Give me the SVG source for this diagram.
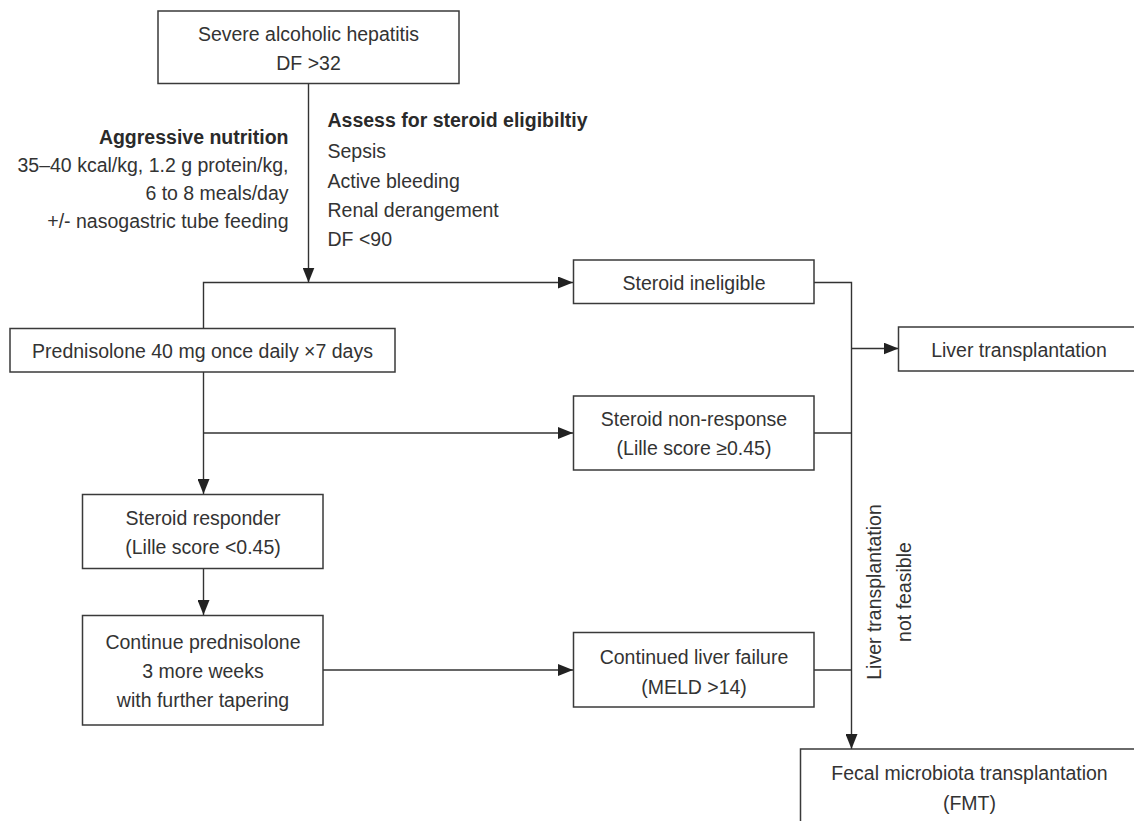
<svg xmlns="http://www.w3.org/2000/svg" width="1134" height="821" viewBox="0 0 1134 821">
<style>
.box{fill:#fff;stroke:#3a3a3a;stroke-width:1.5}
.t{font-family:"Liberation Sans",Arial,sans-serif;font-size:19.5px;fill:#333;text-anchor:middle}
.l{text-anchor:start}
.r{text-anchor:end}
.b{font-weight:bold;fill:#2a2a2a}
.c{fill:none;stroke:#333;stroke-width:1.4}
</style>
<defs>
<marker id="ah" markerUnits="userSpaceOnUse" markerWidth="15" markerHeight="12" refX="15" refY="6" orient="auto">
<path d="M0,0 L15,6 L0,12 z" fill="#222"/>
</marker>
</defs>
<rect width="1134" height="821" fill="#fff"/>
<g id="connectors">
<path class="c" d="M308.5,83.5 V282.5" marker-end="url(#ah)"/>
<path class="c" d="M203.5,328 V282.5 H573" marker-end="url(#ah)"/>
<path class="c" d="M203.5,372 V494" marker-end="url(#ah)"/>
<path class="c" d="M203.5,433 H573" marker-end="url(#ah)"/>
<path class="c" d="M203.5,569 V615" marker-end="url(#ah)"/>
<path class="c" d="M323,670 H573" marker-end="url(#ah)"/>
<path class="c" d="M814,282.5 H851.5 V749" marker-end="url(#ah)"/>
<path class="c" d="M814,433 H851.5"/>
<path class="c" d="M814,670 H851.5"/>
<path class="c" d="M851.5,348.5 H898.5" marker-end="url(#ah)"/>
</g>
<g id="label-lt-not-feasible">
<text class="t" transform="translate(880.5,592) rotate(-90)">Liver transplantation</text>
<text class="t" transform="translate(911,592) rotate(-90)">not feasible</text>
</g>
<g id="severe-ah">
<rect class="box" x="158" y="11" width="301" height="72.5"/>
<text class="t" x="308.5" y="41">Severe alcoholic hepatitis</text>
<text class="t" x="308.5" y="70">DF &gt;32</text>
</g>
<g id="nutrition">
<text class="t r b" x="288.5" y="143.5">Aggressive nutrition</text>
<text class="t r" x="288.5" y="171.5">35–40 kcal/kg, 1.2 g protein/kg,</text>
<text class="t r" x="288.5" y="199.5">6 to 8 meals/day</text>
<text class="t r" x="288.5" y="227.5">+/- nasogastric tube feeding</text>
</g>
<g id="eligibility">
<text class="t l b" x="327.5" y="126.5">Assess for steroid eligibiltiy</text>
<text class="t l" x="327.5" y="158">Sepsis</text>
<text class="t l" x="327.5" y="187.5">Active bleeding</text>
<text class="t l" x="327.5" y="216.5">Renal derangement</text>
<text class="t l" x="327.5" y="246">DF &lt;90</text>
</g>
<g id="steroid-ineligible">
<rect class="box" x="573.5" y="260" width="240.5" height="43.5"/>
<text class="t" x="694" y="290">Steroid ineligible</text>
</g>
<g id="liver-transplantation">
<rect class="box" x="898.5" y="327" width="240" height="44"/>
<text class="t" x="1019" y="356.5">Liver transplantation</text>
</g>
<g id="prednisolone">
<rect class="box" x="10" y="328.5" width="385" height="43.5"/>
<text class="t" x="202.5" y="357.5">Prednisolone 40 mg once daily ×7 days</text>
</g>
<g id="steroid-non-response">
<rect class="box" x="573.5" y="396" width="240.5" height="74"/>
<text class="t" x="694" y="425.5">Steroid non-response</text>
<text class="t" x="694" y="455">(Lille score ≥0.45)</text>
</g>
<g id="steroid-responder">
<rect class="box" x="82.5" y="494.5" width="240.5" height="74"/>
<text class="t" x="203" y="525">Steroid responder</text>
<text class="t" x="203" y="553.5">(Lille score &lt;0.45)</text>
</g>
<g id="continue-prednisolone">
<rect class="box" x="82.5" y="615.5" width="240.5" height="109.5"/>
<text class="t" x="203" y="648.5">Continue prednisolone</text>
<text class="t" x="203" y="677.5">3 more weeks</text>
<text class="t" x="203" y="706.5">with further tapering</text>
</g>
<g id="continued-liver-failure">
<rect class="box" x="573.5" y="632.5" width="240.5" height="74.5"/>
<text class="t" x="694" y="664">Continued liver failure</text>
<text class="t" x="694" y="693.5">(MELD &gt;14)</text>
</g>
<g id="fmt">
<rect class="box" x="800.5" y="749" width="340" height="80"/>
<text class="t" x="969.5" y="780">Fecal microbiota transplantation</text>
<text class="t" x="969.5" y="810">(FMT)</text>
</g>
</svg>
